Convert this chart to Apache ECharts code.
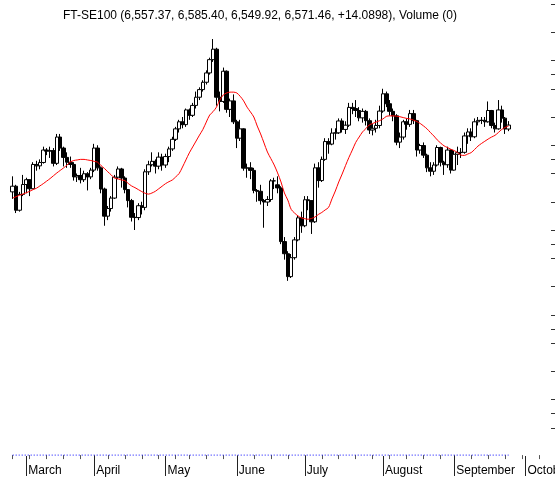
<!DOCTYPE html>
<html>
<head>
<meta charset="utf-8">
<title>FT-SE100</title>
<script src="https://cdn.jsdelivr.net/npm/echarts@6/dist/echarts.min.js"></script>
<style>
  html, body { margin: 0; padding: 0; background: #fff; }
  #chart { width: 555px; height: 480px; }
</style>
</head>
<body>
<div id="chart"></div>
<script>
// trading days per month, Feb 2013 .. Oct 2013 (UK holidays left out)
const monthNames = ['February', 'March', 'April', 'May', 'June', 'July', 'August', 'September', 'October'];
const monthNumbers = [1, 2, 3, 4, 5, 6, 7, 8, 9];
const tradingDays = [
  [25, 26, 27, 28],
  [1, 4, 5, 6, 7, 8, 11, 12, 13, 14, 15, 18, 19, 20, 21, 22, 25, 26, 27, 28],
  [2, 3, 4, 5, 8, 9, 10, 11, 12, 15, 16, 17, 18, 19, 22, 23, 24, 25, 26, 29, 30],
  [1, 2, 3, 7, 8, 9, 10, 13, 14, 15, 16, 17, 20, 21, 22, 23, 24, 28, 29, 30, 31],
  [3, 4, 5, 6, 7, 10, 11, 12, 13, 14, 17, 18, 19, 20, 21, 24, 25, 26, 27, 28],
  [1, 2, 3, 4, 5, 8, 9, 10, 11, 12, 15, 16, 17, 18, 19, 22, 23, 24, 25, 26, 29, 30, 31],
  [1, 2, 5, 6, 7, 8, 9, 12, 13, 14, 15, 16, 19, 20, 21, 22, 23, 27, 28, 29, 30],
  [2, 3, 4, 5, 6, 9, 10, 11, 12, 13, 16, 17, 18, 19, 20, 23, 24, 25, 26, 27, 30],
  [1, 2, 3, 4, 7, 8, 9, 10]
];

// daily prices, Feb 25 .. Sep 24
const opens = [
  6335, 6355, 6270, 6326, 6361, 6378, 6346, 6432, 6427, 6439,
  6483, 6479, 6481, 6436, 6529, 6490, 6457, 6440, 6432, 6388,
  6393, 6378, 6399, 6388, 6412, 6490, 6420, 6345, 6249, 6276,
  6313, 6387, 6416, 6384, 6343, 6304, 6245, 6244, 6286, 6280,
  6406, 6431, 6443, 6426, 6458, 6430, 6460, 6487, 6521, 6558,
  6583, 6573, 6625, 6606, 6641, 6670, 6697, 6723, 6756, 6803,
  6840, 6670, 6655, 6762, 6627, 6657, 6583, 6525, 6558, 6419,
  6420, 6411, 6340, 6337, 6304, 6299, 6308, 6374, 6360, 6349,
  6159, 6116, 6035, 6102, 6165, 6243, 6215, 6307, 6304, 6229,
  6420, 6375, 6450, 6513, 6504, 6543, 6544, 6586, 6556, 6571,
  6634, 6630, 6623, 6597, 6620, 6587, 6554, 6560, 6570, 6621,
  6682, 6647, 6620, 6604, 6511, 6529, 6583, 6574, 6612, 6587,
  6483, 6499, 6465, 6420, 6408, 6430, 6492, 6440, 6431, 6483,
  6412, 6468, 6474, 6475, 6533, 6547, 6530, 6583, 6588, 6588,
  6583, 6623, 6570, 6558, 6625, 6596, 6557.37
];
const closes = [
  6355, 6270, 6326, 6361, 6378, 6346, 6432, 6427, 6439, 6483,
  6479, 6481, 6436, 6529, 6490, 6457, 6440, 6432, 6388, 6393,
  6378, 6399, 6388, 6412, 6490, 6420, 6345, 6249, 6276, 6313,
  6387, 6416, 6384, 6343, 6304, 6245, 6244, 6286, 6280, 6406,
  6431, 6443, 6426, 6458, 6430, 6460, 6487, 6521, 6558, 6583,
  6573, 6625, 6606, 6641, 6670, 6697, 6723, 6756, 6803, 6840,
  6670, 6655, 6762, 6627, 6657, 6583, 6525, 6558, 6419, 6420,
  6411, 6340, 6337, 6304, 6299, 6308, 6374, 6374, 6349, 6159,
  6116, 6035, 6102, 6165, 6243, 6215, 6307, 6304, 6229, 6420,
  6375, 6450, 6513, 6504, 6543, 6544, 6586, 6556, 6571, 6634,
  6630, 6623, 6597, 6620, 6587, 6554, 6560, 6570, 6621, 6682,
  6647, 6620, 6604, 6511, 6529, 6583, 6574, 6612, 6587, 6483,
  6499, 6465, 6420, 6408, 6430, 6492, 6440, 6431, 6483, 6412,
  6468, 6474, 6475, 6533, 6547, 6530, 6583, 6588, 6588, 6583,
  6623, 6570, 6558, 6625, 6596, 6557.37, 6571.46
];
const lows = [
  6310, 6260, 6265, 6320, 6330, 6320, 6345, 6410, 6415, 6435,
  6465, 6455, 6425, 6430, 6480, 6425, 6420, 6420, 6375, 6370,
  6365, 6370, 6340, 6380, 6405, 6410, 6330, 6215, 6235, 6265,
  6310, 6380, 6350, 6330, 6280, 6230, 6200, 6235, 6255, 6270,
  6395, 6425, 6400, 6415, 6410, 6420, 6440, 6480, 6515, 6545,
  6560, 6565, 6590, 6600, 6630, 6660, 6690, 6715, 6750, 6795,
  6640, 6620, 6650, 6615, 6600, 6575, 6490, 6515, 6410, 6385,
  6380, 6330, 6300, 6290, 6208, 6285, 6300, 6345, 6330, 6150,
  6095, 6020, 6030, 6095, 6160, 6190, 6210, 6270, 6186, 6225,
  6350, 6370, 6445, 6470, 6500, 6520, 6540, 6545, 6540, 6565,
  6610, 6600, 6585, 6580, 6570, 6540, 6535, 6545, 6560, 6615,
  6635, 6605, 6585, 6500, 6490, 6520, 6555, 6565, 6575, 6460,
  6470, 6455, 6405, 6390, 6395, 6425, 6425, 6395, 6420, 6400,
  6410, 6430, 6455, 6470, 6505, 6515, 6525, 6570, 6575, 6565,
  6580, 6560, 6545, 6555, 6580, 6540, 6549.92
];
const highs = [
  6390, 6360, 6335, 6395, 6385, 6380, 6440, 6445, 6450, 6495,
  6490, 6495, 6490, 6540, 6540, 6495, 6475, 6460, 6440, 6400,
  6420, 6410, 6405, 6420, 6505, 6500, 6425, 6350, 6285, 6320,
  6395, 6425, 6420, 6390, 6345, 6310, 6260, 6295, 6300, 6415,
  6445, 6475, 6450, 6475, 6470, 6470, 6495, 6530, 6565, 6590,
  6600, 6630, 6630, 6650, 6690, 6705, 6730, 6765, 6810, 6876,
  6845, 6690, 6775, 6765, 6665, 6680, 6590, 6590, 6560, 6435,
  6440, 6420, 6345, 6360, 6310, 6320, 6380, 6385, 6390, 6355,
  6175, 6125, 6115, 6175, 6250, 6265, 6320, 6320, 6305, 6435,
  6440, 6460, 6525, 6525, 6560, 6560, 6595, 6595, 6585, 6650,
  6650, 6660, 6635, 6630, 6625, 6595, 6575, 6590, 6640, 6700,
  6690, 6660, 6630, 6610, 6545, 6590, 6595, 6625, 6625, 6590,
  6505, 6510, 6470, 6440, 6440, 6500, 6495, 6445, 6495, 6485,
  6480, 6495, 6490, 6545, 6560, 6560, 6595, 6600, 6600, 6600,
  6655, 6625, 6580, 6660, 6640, 6600, 6585.40
];
// red moving average
const movingAvg = [
  6313, 6318, 6323, 6327, 6332, 6337, 6343, 6348, 6356, 6364,
  6373, 6382, 6392, 6402, 6411, 6420, 6430, 6441, 6446, 6448,
  6450, 6450, 6448, 6446, 6443, 6440, 6428, 6418, 6406, 6395,
  6384, 6381, 6377, 6375, 6365, 6356, 6350, 6343, 6336, 6330,
  6327, 6331, 6337, 6346, 6355, 6364, 6371, 6377, 6388, 6400,
  6423, 6448, 6473, 6494, 6515, 6536, 6556, 6582, 6607, 6619,
  6635, 6660, 6678, 6685, 6688, 6688, 6685, 6673, 6657, 6635,
  6618, 6600, 6568, 6540, 6508, 6476, 6453, 6430, 6402, 6370,
  6331, 6306, 6273, 6260, 6250, 6243, 6240, 6238, 6241, 6246,
  6255, 6262, 6271, 6280, 6310, 6338, 6370, 6398, 6428, 6457,
  6483, 6510, 6529, 6547, 6559, 6572, 6577, 6582, 6587, 6593,
  6602, 6604, 6604, 6603, 6601, 6598, 6595, 6593, 6589, 6584,
  6577, 6568, 6558, 6545, 6533, 6519, 6508, 6498, 6492, 6486,
  6481, 6474, 6465, 6464, 6469, 6474, 6485, 6497, 6506, 6514,
  6522, 6529, 6535, 6545, 6556, 6563, 6568
];
const volume = [
  0, 0, 0, 0, 0, 0, 0, 0, 0, 0, 0, 0, 0, 0, 0, 0, 0, 0, 0, 0,
  0, 0, 0, 0, 0, 0, 0, 0, 0, 0, 0, 0, 0, 0, 0, 0, 0, 0, 0, 0,
  0, 0, 0, 0, 0, 0, 0, 0, 0, 0, 0, 0, 0, 0, 0, 0, 0, 0, 0, 0,
  0, 0, 0, 0, 0, 0, 0, 0, 0, 0, 0, 0, 0, 0, 0, 0, 0, 0, 0, 0,
  0, 0, 0, 0, 0, 0, 0, 0, 0, 0, 0, 0, 0, 0, 0, 0, 0, 0, 0, 0,
  0, 0, 0, 0, 0, 0, 0, 0, 0, 0, 0, 0, 0, 0, 0, 0, 0, 0, 0, 0,
  0, 0, 0, 0, 0, 0, 0, 0, 0, 0, 0, 0, 0, 0, 0, 0, 0, 0, 0, 0,
  0, 0, 0, 0, 0, 0, 0
];
// right axis tick marks (labels fall outside the picture)
const priceTicks = [7000, 6900, 6800, 6750, 6700, 6600, 6500, 6450, 6400, 6300,
  6200, 6150, 6100, 6000, 5900, 5850, 5800, 5700, 5600, 5550, 5500];

const titleText = 'FT-SE100 (6,557.37, 6,585.40, 6,549.92, 6,571.46, +14.0898), Volume (0)';

let categories = [];
let monthStart = new Set();
let weekStart = new Set();
let prevDate = null;
tradingDays.forEach(function (days, m) {
  days.forEach(function (d, k) {
    let idx = categories.length;
    let date = new Date(2013, monthNumbers[m], d);
    categories.push(monthNames[m] + ' ' + d);
    if (k === 0 && m > 0) monthStart.add(idx);
    if (!prevDate || date.getDay() < prevDate.getDay()) weekStart.add(idx);
    prevDate = date;
  });
});

let candles = closes.map(function (c, i) {
  return [opens[i], c, lows[i], highs[i]];
});

const font = '"Liberation Sans", Arial, Helvetica, sans-serif';
const gridBox = { left: 11, right: 4, top: 4, bottom: 24 };

let chart = echarts.init(document.getElementById('chart'));
chart.setOption({
  animation: false,
  backgroundColor: '#ffffff',
  textStyle: { fontFamily: font },
  title: {
    text: titleText,
    left: 63,
    top: 10,
    padding: 0,
    textStyle: { fontFamily: font, fontSize: 12, fontWeight: 'normal', color: '#000' }
  },
  grid: [
    Object.assign({ outerBoundsMode: 'none' }, gridBox),
    Object.assign({ outerBoundsMode: 'none' }, gridBox)
  ],
  xAxis: [
    {
      type: 'category',
      gridIndex: 0,
      data: categories,
      position: 'bottom',
      axisLine: { show: false },
      axisTick: {
        show: true,
        alignWithLabel: true,
        length: 4,
        interval: function (index) { return weekStart.has(index); },
        lineStyle: { color: '#555', width: 1 }
      },
      axisLabel: { show: false },
      splitLine: { show: false }
    },
    {
      type: 'category',
      gridIndex: 1,
      data: categories,
      position: 'bottom',
      axisLine: { show: false },
      axisTick: {
        show: true,
        alignWithLabel: true,
        length: 20,
        interval: function (index) { return monthStart.has(index); },
        lineStyle: { color: '#222', width: 1 }
      },
      axisLabel: {
        show: true,
        interval: function (index) { return monthStart.has(index); },
        formatter: function (value) { return value.split(' ')[0]; },
        align: 'left',
        verticalAlign: 'top',
        margin: 9,
        padding: [0, 0, 0, 2],
        fontFamily: font,
        fontSize: 12,
        color: '#000'
      },
      splitLine: { show: false }
    }
  ],
  yAxis: [
    {
      type: 'value',
      gridIndex: 0,
      position: 'right',
      min: 5400,
      max: 7000,
      scale: true,
      axisLine: { show: false },
      axisTick: {
        show: true,
        length: 5,
        customValues: priceTicks,
        lineStyle: { color: '#333', width: 1 }
      },
      axisLabel: { show: false },
      splitLine: { show: false }
    },
    {
      type: 'value',
      gridIndex: 0,
      min: -0.002,
      max: 1,
      show: false
    },
    {
      type: 'value',
      gridIndex: 1,
      show: false
    }
  ],
  series: [
    {
      name: 'Volume',
      type: 'line',
      xAxisIndex: 0,
      yAxisIndex: 1,
      data: volume,
      showSymbol: false,
      symbol: 'none',
      clip: false,
      z: 5,
      lineStyle: { color: '#0000ff', width: 1, type: [1, 2] },
      silent: true
    },
    {
      name: 'FT-SE100',
      type: 'candlestick',
      xAxisIndex: 0,
      yAxisIndex: 0,
      data: candles,
      barWidth: 4,
      itemStyle: {
        color: '#ffffff',
        color0: '#000000',
        borderColor: '#000000',
        borderColor0: '#000000',
        borderColorDoji: '#000000',
        borderWidth: 1
      }
    },
    {
      name: 'MA',
      type: 'line',
      xAxisIndex: 0,
      yAxisIndex: 0,
      data: movingAvg,
      showSymbol: false,
      symbol: 'none',
      smooth: 0.3,
      lineStyle: { color: '#ff0000', width: 1 },
      silent: true
    }
  ]
});
</script>
</body>
</html>
